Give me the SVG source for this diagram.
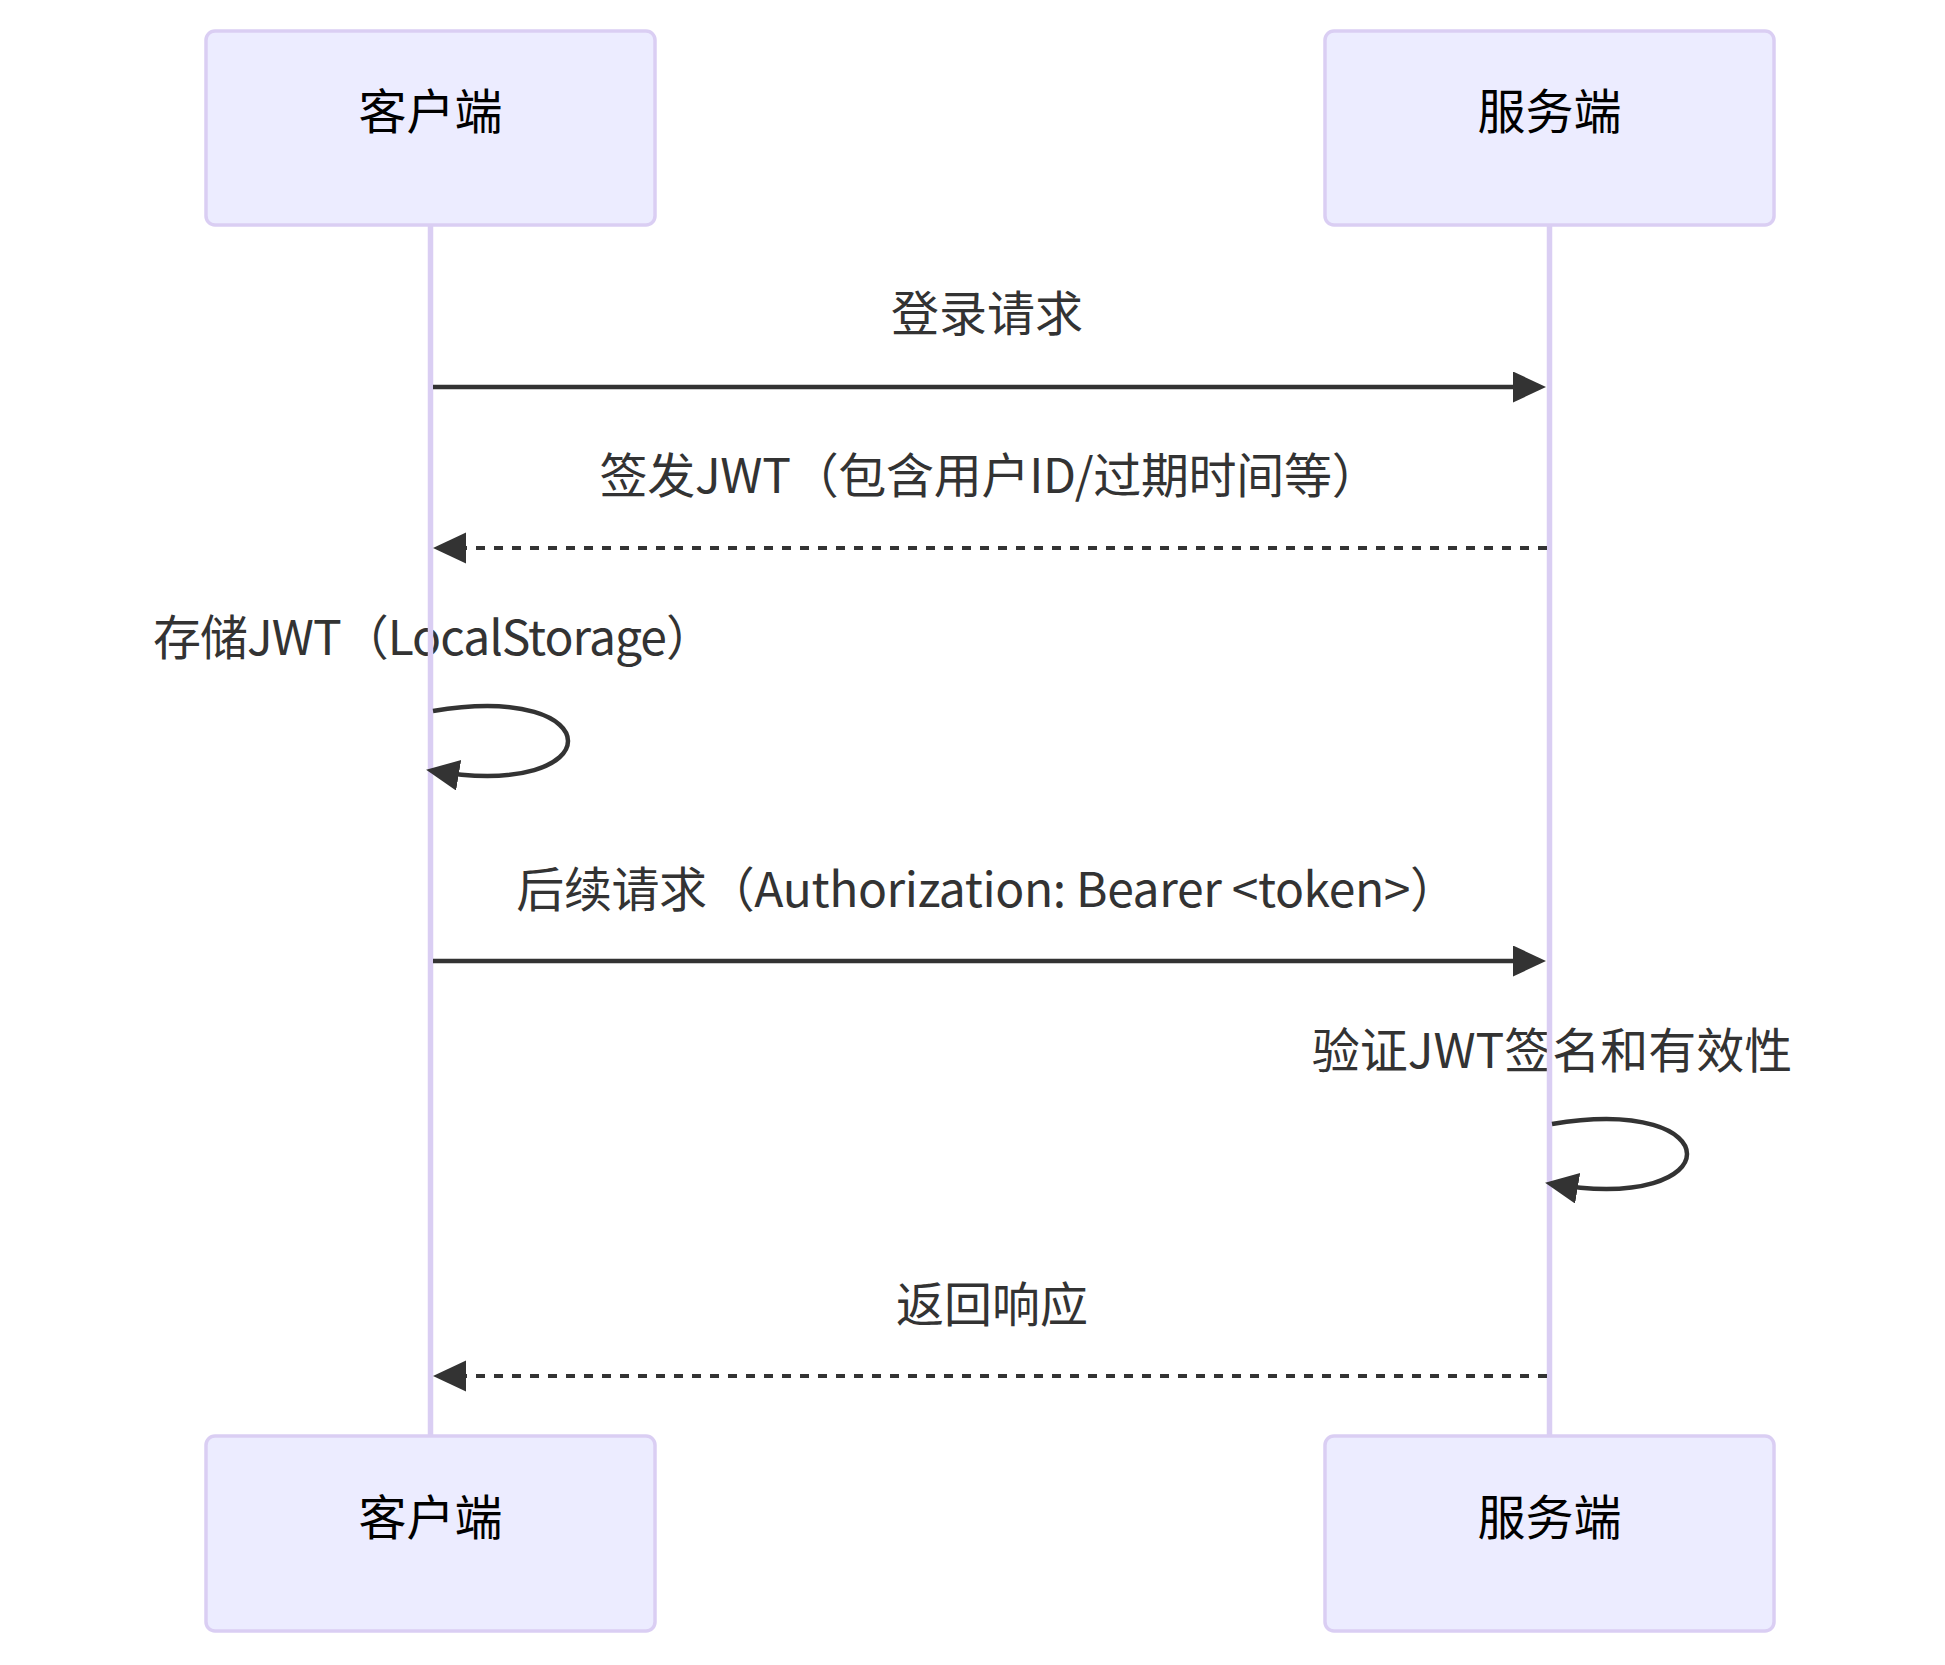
<svg xmlns="http://www.w3.org/2000/svg" width="1945" height="1665" viewBox="0 0 1945 1665">
<defs>
<style>
.actor{fill:#ECECFF;stroke:#dacef3;stroke-width:3.5}
.atext{font-family:"Noto Sans CJK SC","Noto Sans",sans-serif;font-size:48px;fill:#000;text-anchor:middle}
.mtext{font-family:"Noto Sans CJK SC","Noto Sans",sans-serif;font-size:48px;fill:#333;text-anchor:middle}
.life{stroke:#dacef3;stroke-width:5.5;fill:none}
.msg{stroke:#333;stroke-width:4.5;fill:none;marker-end:url(#arrow)}
.dash{stroke:#333;stroke-width:4;fill:none;stroke-dasharray:9 9;marker-end:url(#arrow)}
</style>
<marker id="arrow" markerUnits="userSpaceOnUse" markerWidth="40" markerHeight="40" refX="26" refY="15.5" orient="auto">
<path d="M0,0 L33,15.5 L0,31 z" fill="#333"/>
</marker>
</defs>
<rect width="1945" height="1665" fill="#fff"/>
<g id="actor-client-top"><rect class="actor" x="206" y="31" width="449" height="194" rx="9"/><text class="atext" x="430.5" y="129">客户端</text></g>
<g id="actor-server-top"><rect class="actor" x="1325" y="31" width="449" height="194" rx="9"/><text class="atext" x="1549.5" y="129">服务端</text></g>
<g id="actor-client-bottom"><rect class="actor" x="206" y="1436" width="449" height="195" rx="9"/><text class="atext" x="430.5" y="1535">客户端</text></g>
<g id="actor-server-bottom"><rect class="actor" x="1325" y="1436" width="449" height="195" rx="9"/><text class="atext" x="1549.5" y="1535">服务端</text></g>
<g id="labels">
<text class="mtext" x="987" y="331">登录请求</text>
<text class="mtext" x="989.5" y="493" letter-spacing="-0.3">签发JWT（包含用户ID/过期时间等）</text>
<text class="mtext" x="433" y="655" letter-spacing="-1">存储JWT（LocalStorage）</text>
<text class="mtext" x="987" y="907" letter-spacing="-0.4">后续请求（Authorization: Bearer &lt;token&gt;）</text>
<text class="mtext" x="1552" y="1068">验证JWT签名和有效性</text>
<text class="mtext" x="992" y="1322">返回响应</text>
</g>
<g id="lifelines">
<line class="life" x1="430.5" y1="226" x2="430.5" y2="1435"/>
<line class="life" x1="1549.5" y1="226" x2="1549.5" y2="1435"/>
</g>
<g id="connectors">
<line class="msg" x1="433" y1="387" x2="1539" y2="387"/>
<line class="dash" x1="1547" y1="548" x2="440" y2="548"/>
<path class="msg" d="M433,711 C613,681 613,801 433,771"/>
<line class="msg" x1="433" y1="961" x2="1539" y2="961"/>
<path class="msg" d="M1552,1124 C1732,1094 1732,1214 1552,1184"/>
<line class="dash" x1="1547" y1="1376" x2="440" y2="1376"/>
</g>
</svg>
